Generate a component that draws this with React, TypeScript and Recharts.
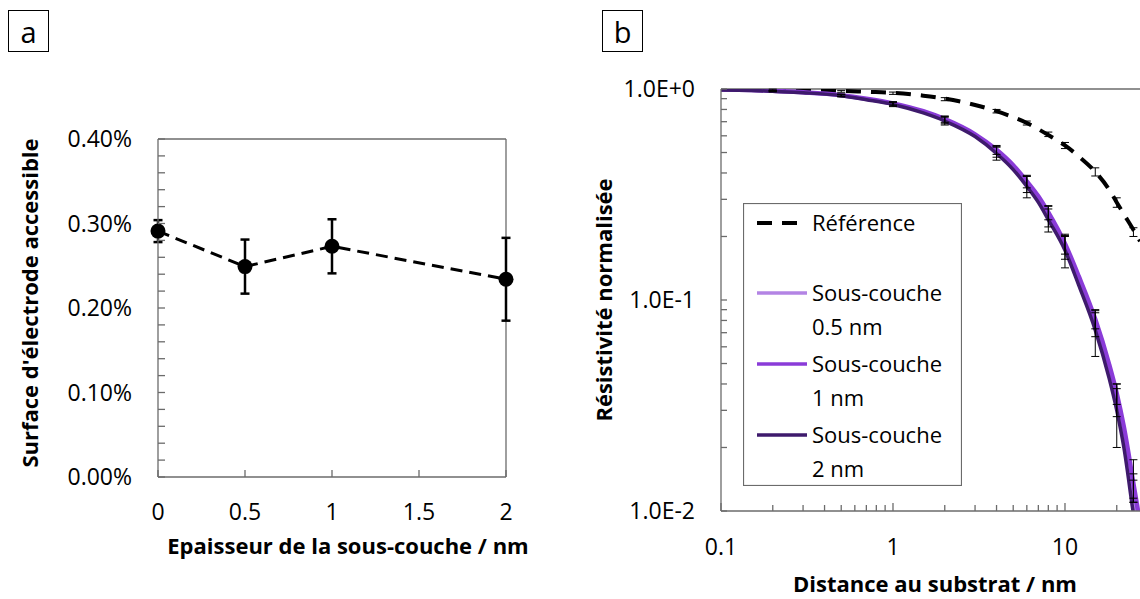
import React from "react";
import {
  ComposedChart,
  Line,
  Scatter,
  XAxis,
  YAxis,
  ErrorBar,
  ReferenceLine,
  Legend,
} from "recharts";

// ---- panel a : accessible electrode surface vs underlayer thickness
const thickness = [0, 0.5, 1, 2];
const surfacePct = [0.291, 0.249, 0.273, 0.234];
const surfaceErr = [0.013, 0.032, 0.032, 0.049];
const surfaceTicks = [
  0, 0.02, 0.04, 0.06, 0.08, 0.1, 0.12, 0.14, 0.16, 0.18, 0.2, 0.22, 0.24, 0.26,
  0.28, 0.3, 0.32, 0.34, 0.36, 0.38, 0.4,
];
const thicknessTicks = [0, 0.5, 1, 1.5, 2];

// ---- panel b : normalised resistivity vs distance to substrate
const distance = [
  0.1, 0.15, 0.2, 0.3, 0.5, 0.7, 1, 1.5, 2, 3, 4, 5, 6, 7, 8, 10, 12, 15, 18, 20,
  22, 25, 27.3,
];
const refCurve = [
  1.0, 0.998, 0.995, 0.99, 0.98, 0.97, 0.96, 0.93, 0.9, 0.84, 0.785, 0.735, 0.69,
  0.645, 0.605, 0.54, 0.48, 0.405, 0.335, 0.29, 0.255, 0.215, 0.19,
];
const curve05 = [
  0.993, 0.988, 0.978, 0.963, 0.932, 0.895, 0.85, 0.778, 0.712, 0.602, 0.505,
  0.425, 0.355, 0.3, 0.25, 0.178, 0.124, 0.077, 0.047, 0.033, 0.0225, 0.0115,
  0.0075,
];
const curve1 = [
  0.995, 0.99, 0.98, 0.965, 0.935, 0.9, 0.855, 0.785, 0.72, 0.61, 0.515, 0.435,
  0.365, 0.31, 0.26, 0.185, 0.13, 0.081, 0.05, 0.036, 0.025, 0.0135, 0.0088,
];
const curve2 = [
  0.99, 0.985, 0.975, 0.96, 0.93, 0.89, 0.845, 0.77, 0.705, 0.595, 0.495, 0.415,
  0.345, 0.29, 0.24, 0.172, 0.118, 0.072, 0.043, 0.03, 0.02, 0.0097, 0.0062,
];

const measuredDist = [0.2, 0.5, 1, 2, 4, 6, 8, 10, 15, 20, 25];
const refMeasured = [0.99, 0.975, 0.955, 0.895, 0.785, 0.69, 0.61, 0.54, 0.405, 0.29, 0.21];
const refErr = [0.008, 0.01, 0.012, 0.015, 0.015, 0.015, 0.015, 0.018, 0.018, 0.015, 0.01];
const meas05 = [0.978, 0.932, 0.85, 0.712, 0.505, 0.355, 0.25, 0.178, 0.077, 0.033, 0.013];
const err05 = [0.006, 0.012, 0.018, 0.028, 0.03, 0.032, 0.028, 0.022, 0.01, 0.005, 0.002];
const meas1 = [0.98, 0.935, 0.855, 0.72, 0.515, 0.365, 0.26, 0.185, 0.081, 0.036, 0.0145];
const err1 = [0.005, 0.01, 0.015, 0.025, 0.025, 0.025, 0.02, 0.02, 0.008, 0.004, 0.003];
const meas2 = [0.975, 0.93, 0.845, 0.705, 0.495, 0.345, 0.24, 0.172, 0.072, 0.03, 0.0125];
const err2 = [0.006, 0.012, 0.02, 0.03, 0.035, 0.04, 0.03, 0.03, 0.018, 0.01, 0.0015];

const distTicks = [
  0.1, 0.2, 0.3, 0.4, 0.5, 0.6, 0.7, 0.8, 0.9, 1, 2, 3, 4, 5, 6, 7, 8, 9, 10, 20,
];
const resTicks = [
  0.01, 0.02, 0.03, 0.04, 0.05, 0.06, 0.07, 0.08, 0.09, 0.1, 0.2, 0.3, 0.4, 0.5,
  0.6, 0.7, 0.8, 0.9, 1,
];

const axisColor = "#6b6b6b";
const font = "'Open Sans', sans-serif";

const seriesB = [
  { key: "ref", label: ["Référence"], color: "#000000", width: 4, dash: "15 10", curve: refCurve, pts: refMeasured, err: refErr },
  { key: "s05", label: ["Sous-couche", "0.5 nm"], color: "#b384e4", width: 3, dash: undefined, curve: curve05, pts: meas05, err: err05 },
  { key: "s1", label: ["Sous-couche", "1 nm"], color: "#8a3bd8", width: 4.5, dash: undefined, curve: curve1, pts: meas1, err: err1 },
  { key: "s2", label: ["Sous-couche", "2 nm"], color: "#3e1a6c", width: 3.5, dash: undefined, curve: curve2, pts: meas2, err: err2 },
];

const dataA = thickness.map((x, i) => ({ x, y: surfacePct[i], err: surfaceErr[i] }));

const onStep = (v: number, step: number) => Math.abs(v / step - Math.round(v / step)) < 1e-6;
const isDecade = (v: number) => Math.abs(Math.log10(v) - Math.round(Math.log10(v))) < 1e-6;

const SurfaceTick = (props: any) => {
  const { x, y, payload } = props;
  const v = payload.value;
  return (
    <g>
      <line x1={x} x2={x + 7} y1={y} y2={y} stroke={axisColor} strokeWidth={1.3} />
      {onStep(v, 0.1) && (
        <text x={x - 26} y={y} dy="0.36em" textAnchor="end" fontSize={23} fill="#000" fontFamily={font}>
          {v.toFixed(2)}%
        </text>
      )}
    </g>
  );
};

const ThicknessTick = (props: any) => {
  const { x, y, payload } = props;
  return (
    <g>
      <line x1={x} x2={x} y1={y} y2={y - 7} stroke={axisColor} strokeWidth={1.3} />
      <text x={x} y={y + 35} dy="0.36em" textAnchor="middle" fontSize={23} fill="#000" fontFamily={font}>
        {payload.value}
      </text>
    </g>
  );
};

const ResTick = (props: any) => {
  const { x, y, payload } = props;
  const v = payload.value;
  const e = Math.round(Math.log10(v));
  return (
    <g>
      <line x1={x} x2={x + 6} y1={y} y2={y} stroke={axisColor} strokeWidth={1.3} />
      {isDecade(v) && (
        <text x={x - 26} y={y} dy="0.36em" textAnchor="end" fontSize={23} fill="#000" fontFamily={font}>
          {`1.0E${e >= 0 ? "+" : ""}${e}`}
        </text>
      )}
    </g>
  );
};

const DistTick = (props: any) => {
  const { x, y, payload } = props;
  const v = payload.value;
  const major = isDecade(v);
  return (
    <g>
      <line x1={x} x2={x} y1={y} y2={y - (major ? 8 : 6)} stroke={axisColor} strokeWidth={1.3} />
      {major && (
        <text x={x} y={y + 36} dy="0.36em" textAnchor="middle" fontSize={23} fill="#000" fontFamily={font}>
          {String(v)}
        </text>
      )}
    </g>
  );
};

const LegendBox = () => (
  <svg width={219} height={283} style={{ display: "block" }}>
    <rect x={0.5} y={0.5} width={218} height={282} fill="#fff" stroke={axisColor} strokeWidth={1.2} />
    {seriesB.map((s, i) => {
      const rowY = i === 0 ? 20 : 90 + 71 * (i - 1);
      return (
        <g key={s.key}>
          <line x1={14} x2={64} y1={rowY} y2={rowY} stroke={s.color} strokeWidth={i === 0 ? 4 : 3.5} strokeDasharray={s.dash} />
          {s.label.map((t, j) => (
            <text key={t} x={69} y={rowY + j * 34} dy="0.36em" fontSize={22} fill="#000" fontFamily={font}>
              {t}
            </text>
          ))}
        </g>
      );
    })}
  </svg>
);

const boxLabel = (left: number, text: string) => (
  <div
    style={{
      position: "absolute",
      left,
      top: 10,
      width: 39,
      height: 40,
      border: "1.5px solid #000",
      display: "flex",
      alignItems: "center",
      justifyContent: "center",
      fontSize: 29,
      fontFamily: font,
      lineHeight: 1,
    }}
  >
    {text}
  </div>
);

const title = (x: number, y: number, text: string, rotate = false) => (
  <div
    style={{
      position: "absolute",
      left: x,
      top: y,
      transform: `translate(-50%, -50%)${rotate ? " rotate(-90deg)" : ""}`,
      whiteSpace: "nowrap",
      fontFamily: font,
      fontWeight: 700,
      fontSize: 22,
      lineHeight: 1,
      color: "#000",
    }}
  >
    {text}
  </div>
);

export default function App() {
  return (
    <div style={{ position: "absolute", left: 0, top: 0, width: 1140, height: 599, background: "#fff", overflow: "hidden", fontFamily: font }}>
      {boxLabel(8, "a")}
      {boxLabel(602, "b")}

      <div style={{ position: "absolute", left: 0, top: 0 }}>
        <ComposedChart width={560} height={599} margin={{ top: 139, left: 157, right: 54, bottom: 121 }}>
          <XAxis
            type="number"
            dataKey="x"
            domain={[0, 2]}
            ticks={thicknessTicks}
            interval={0}
            height={1}
            tickSize={0}
            tickMargin={0}
            tickLine={false}
            tick={ThicknessTick}
            axisLine={{ stroke: axisColor, strokeWidth: 1.3 }}
          />
          <YAxis
            type="number"
            dataKey="y"
            domain={[0, 0.4]}
            ticks={surfaceTicks}
            interval={0}
            width={1}
            tickSize={0}
            tickMargin={0}
            tickLine={false}
            tick={SurfaceTick}
            axisLine={{ stroke: axisColor, strokeWidth: 1.3 }}
          />
          <ReferenceLine y={0.4} stroke={axisColor} strokeWidth={1.3} />
          <ReferenceLine x={2} stroke={axisColor} strokeWidth={1.3} />
          <Line
            data={dataA}
            dataKey="y"
            type="linear"
            stroke="#000"
            strokeWidth={3}
            strokeDasharray="12 7"
            isAnimationActive={false}
            dot={(p: any) => <circle key={`d${p.index}`} cx={p.cx} cy={p.cy} r={7.5} fill="#000" />}
          >
            <ErrorBar dataKey="err" direction="y" width={4.5} stroke="#000" strokeWidth={2.5} />
          </Line>
        </ComposedChart>
      </div>

      <div style={{ position: "absolute", left: 580, top: 0 }}>
        <ComposedChart width={560} height={599} margin={{ top: 89, left: 140, right: 0, bottom: 87 }}>
          <XAxis
            type="number"
            dataKey="x"
            scale="log"
            domain={[0.1, 27.3]}
            allowDataOverflow
            ticks={distTicks}
            interval={0}
            height={1}
            tickSize={0}
            tickMargin={0}
            tickLine={false}
            tick={DistTick}
            axisLine={{ stroke: axisColor, strokeWidth: 1.3 }}
          />
          <YAxis
            type="number"
            dataKey="y"
            scale="log"
            domain={[0.01, 1]}
            allowDataOverflow
            ticks={resTicks}
            interval={0}
            width={1}
            tickSize={0}
            tickMargin={0}
            tickLine={false}
            tick={ResTick}
            axisLine={{ stroke: axisColor, strokeWidth: 1.3 }}
          />
          <ReferenceLine y={1} stroke={axisColor} strokeWidth={1.3} />
          {seriesB.map((s) => (
            <Line
              key={s.key}
              name={s.label.join(" ")}
              data={distance.map((x, i) => ({ x, y: s.curve[i] }))}
              dataKey="y"
              type="monotone"
              stroke={s.color}
              strokeWidth={s.width}
              strokeDasharray={s.dash}
              dot={false}
              activeDot={false}
              isAnimationActive={false}
            />
          ))}
          {seriesB.map((s) => (
            <Scatter
              key={`e-${s.key}`}
              data={measuredDist.map((x, i) => ({ x, y: s.pts[i], err: s.err[i] }))}
              dataKey="y"
              legendType="none"
              shape={() => <g />}
              isAnimationActive={false}
            >
              <ErrorBar dataKey="err" direction="y" width={4} stroke="#000" strokeWidth={1} />
            </Scatter>
          ))}
          <Legend
            layout="vertical"
            align="center"
            verticalAlign="middle"
            wrapperStyle={{ left: 163, top: 203, width: 219, height: 283 }}
            content={() => <LegendBox />}
          />
        </ComposedChart>
      </div>

      {title(29, 303, "Surface d'électrode accessible", true)}
      {title(348, 545, "Epaisseur de la sous-couche / nm")}
      {title(603, 300, "Résistivité normalisée", true)}
      {title(935, 583, "Distance au substrat / nm")}
    </div>
  );
}
